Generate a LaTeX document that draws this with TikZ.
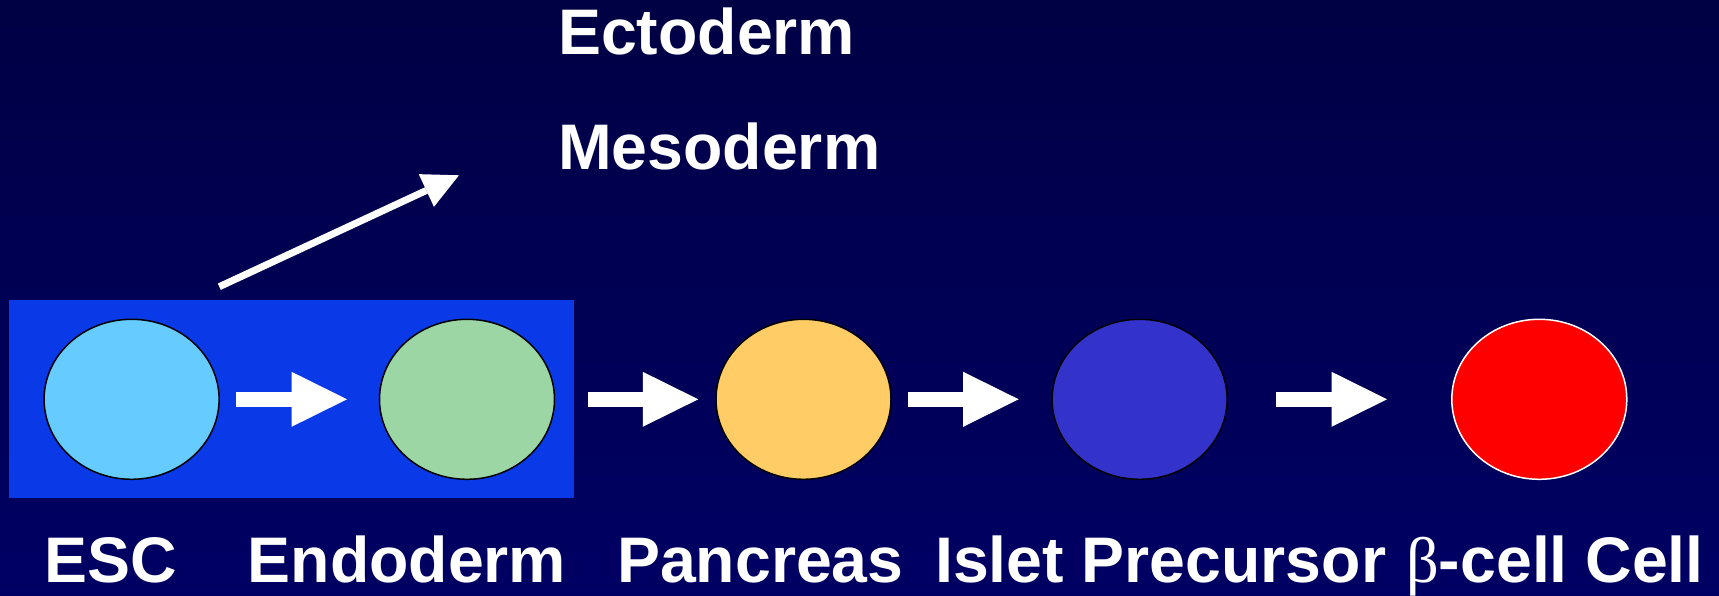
\documentclass[tikz,border=0pt]{standalone}
\usepackage{fontspec}
\setmainfont{Liberation Sans}
\newfontfamily\grkfont{Liberation Serif}
\usetikzlibrary{shapes.geometric,arrows.meta}
\definecolor{bgtop}{RGB}{0,0,68}
\definecolor{bgbot}{RGB}{0,0,100}
\definecolor{stageblue}{RGB}{10,58,232}
\definecolor{escblue}{RGB}{102,204,255}
\definecolor{endogreen}{RGB}{155,214,164}
\definecolor{pancyellow}{RGB}{255,204,102}
\definecolor{isletblue}{RGB}{51,51,204}
\begin{document}
\begin{tikzpicture}[x=1pt,y=-1pt,
  cell/.style={ellipse,draw=black,line width=1.5pt,minimum width=175pt,minimum height=160pt,inner sep=0pt},
  flow/.style={draw=white,line width=15.6pt,-{Triangle[width=55pt,length=55.5pt,line width=0pt]}},
  lbl/.style={anchor=base west,inner sep=0pt,text=white,font=\fontsize{64.4}{77}\selectfont\bfseries}]
\useasboundingbox (0,0) rectangle (1719,596);
\shade[top color=bgtop,bottom color=bgbot] (0,0) rectangle (1719,596);
% ESC and endoderm sit on one panel
\node[fill=stageblue,minimum width=565pt,minimum height=198pt,inner sep=0pt,anchor=north west] (stage) at (8.8,300) {};
\node[cell,fill=escblue] (esc) at (131.6,399.3) {};
\node[cell,fill=endogreen] (endo) at (467,399.3) {};
\node[cell,fill=pancyellow] (panc) at (803.5,399.3) {};
\node[cell,fill=isletblue] (islet) at (1139.6,399.3) {};
\node[cell,fill=red,draw=white] (beta) at (1539.3,399.3) {};
\draw[flow,shorten <=16.4pt,shorten >=31.7pt] (esc) -- (endo);
\draw[flow,shorten <=32.3pt,shorten >=17pt] (endo) -- (panc);
\draw[flow,shorten <=16.7pt,shorten >=32.7pt] (panc) -- (islet);
\draw[flow,shorten <=48pt,shorten >=64pt] (islet) -- (beta);
% side branch to the other germ layers
\node[lbl] (ecto) at (558,55) {Ectoderm};
\node[lbl] (meso) at (558,170) {Mesoderm};
\coordinate (fork) at (219.3,286.7);
\coordinate (germ) at (459,175.3);
\draw[white,line width=7pt,-{Triangle[width=36pt,length=36pt,line width=0pt]}] (fork) -- (germ);
% names under the cells
\node[lbl] (tesc) at (44.7,582) {ESC};
\node[lbl] (tendo) at (247.5,582) {Endoderm};
\node[lbl] (tpanc) at (617,582) {Pancreas};
\node[lbl] (tislet) at (935,582) {Islet Precursor};
\node[lbl] (tbeta) at (1406,582) {{\grkfont\mdseries β}-cell Cell};
\end{tikzpicture}
\end{document}
